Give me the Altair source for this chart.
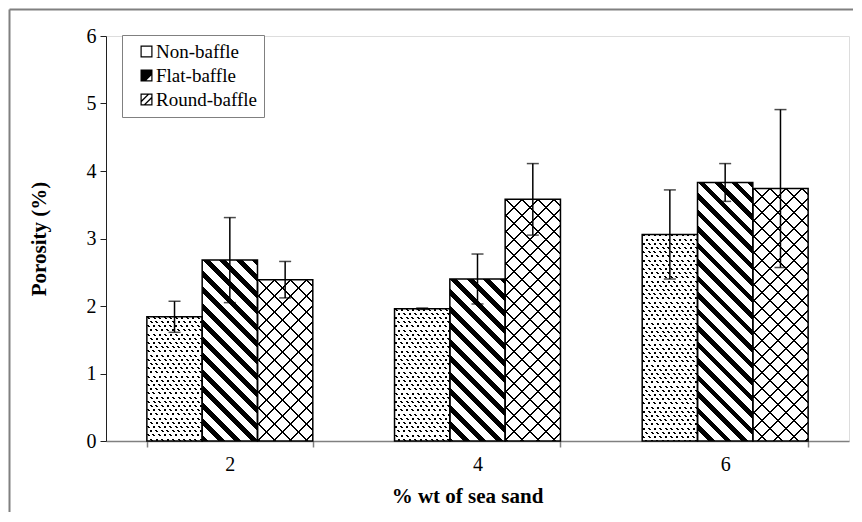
import math
import altair as alt
import pandas as pd

# ---------------- data ----------------
categories = ["2", "4", "6"]
series_names = ["Non-baffle", "Flat-baffle", "Round-baffle"]
non_baffle = [1.84, 1.96, 3.06]
non_baffle_err = [0.23, 0.01, 0.66]
flat_baffle = [2.68, 2.40, 3.83]
flat_baffle_err = [0.63, 0.37, 0.28]
round_baffle = [2.39, 3.58, 3.74]
round_baffle_err = [0.27, 0.53, 1.17]
y_ticks = [0, 1, 2, 3, 4, 5, 6]

x_title = "% wt of sea sand"
y_title = "Porosity (%)"

rows = []
for name, vals, errs in [
    (series_names[0], non_baffle, non_baffle_err),
    (series_names[1], flat_baffle, flat_baffle_err),
    (series_names[2], round_baffle, round_baffle_err),
]:
    for cat, v, e in zip(categories, vals, errs):
        rows.append({"sand": cat, "baffle": name, "porosity": v,
                     "lo": round(v - e, 3), "hi": round(v + e, 3)})
df = pd.DataFrame(rows)

# ---------------- layout ----------------
W, H = 743, 405
Y_MAX = 6
PAD_INNER = 0.33
BAR_W = W / len(categories) * (1 - PAD_INNER) / len(series_names)
PX_PER_UNIT = H / Y_MAX
SERIF = "Liberation Serif"
CLEAR = "rgba(255,255,255,0)"
AXIS_GRAY = "#808080"
LABEL_SIZE = 20
TITLE_SIZE = 21


def stripe_gradient(w, h, c1, c2, spacing, frac, line_color, bg_color):
    """Hatch-like linear gradient: bands along lines c1*x + c2*y = const (bar-local px)."""
    corners = [(0.0, 0.0), (w, 0.0), (0.0, h), (w, h)]
    ls = [c1 * x + c2 * y for x, y in corners]
    lmin, lmax = min(ls), max(ls)
    x0, y0 = corners[ls.index(lmin)]
    k = (lmax - lmin) / (c1 * c1 * w * w + c2 * c2 * h * h)
    u1, v1 = x0 / w, y0 / h
    u2, v2 = u1 + c1 * w * k, v1 + c2 * h * k
    if c1 == 0:
        u1 = u2 = 0.5
    span = lmax - lmin

    def off(l):
        return round(min(1.0, max(0.0, (l - lmin) / span)), 5)

    stops = []
    m = math.floor(lmin / spacing)
    while m * spacing < lmax:
        a = off(m * spacing)
        b = off((m + frac) * spacing)
        c = off((m + 1) * spacing)
        stops += [(a, line_color), (b, line_color), (b, bg_color), (c, bg_color)]
        m += 1
    return alt.LinearGradient(
        gradient="linear",
        x1=round(u1, 5), y1=round(v1, 5), x2=round(u2, 5), y2=round(v2, 5),
        stops=[alt.GradientStop(offset=o, color=col) for o, col in stops],
    )


def enc_x():
    return alt.X(
        "sand:N",
        scale=alt.Scale(domain=categories, paddingInner=PAD_INNER, paddingOuter=PAD_INNER / 2),
        axis=alt.Axis(
            title=x_title, labelAngle=0, tickBand="extent",
            domainColor=AXIS_GRAY, domainWidth=1.5, tickColor=AXIS_GRAY, tickWidth=1.5, tickSize=6,
            labelFont=SERIF, labelFontSize=LABEL_SIZE, labelColor="black", labelPadding=7,
            titleFont=SERIF, titleFontSize=TITLE_SIZE, titleFontWeight="bold", titleColor="black",
            titlePadding=11, titleX=361,
        ),
    )


def enc_xoff():
    return alt.XOffset("baffle:N", scale=alt.Scale(domain=series_names, paddingInner=0, paddingOuter=0))


def enc_y(field):
    return alt.Y(
        f"{field}:Q",
        title=y_title,
        scale=alt.Scale(domain=[0, Y_MAX], nice=False, zero=True),
        axis=alt.Axis(
            values=y_ticks, grid=False,
            domainColor="#202020", tickColor="#202020", tickSize=6,
            labelFont=SERIF, labelFontSize=LABEL_SIZE, labelColor="black", labelPadding=4,
            titleFont=SERIF, titleFontSize=TITLE_SIZE, titleFontWeight="bold", titleColor="black",
            titlePadding=37,
        ),
    )


# legend symbols (unit square paths: ring + pattern hint)
RING = "M-1,-1H1V1H-1Z M-0.8,-0.8V0.8H0.8V-0.8Z"
legend_paths = [
    RING,
    RING + " M-0.8,-0.8H0.8V0L0,0.8H-0.8Z",
    RING + " M-0.8,0.1L0.1,-0.8H0.4L-0.8,0.4Z M-0.4,0.8L0.8,-0.4V-0.1L-0.1,0.8Z",
]

layers = []

# frame (top and left edges visible inside the picture)
frame_df = pd.DataFrame({"f": [0]})
layers.append(
    alt.Chart(frame_df).mark_rule(color=AXIS_GRAY, strokeWidth=2)
    .encode(x=alt.value(-96.5), x2=alt.value(W + 8), y=alt.value(-26.5))
)
layers.append(
    alt.Chart(frame_df).mark_rule(color=AXIS_GRAY, strokeWidth=2)
    .encode(x=alt.value(-96.5), y=alt.value(-26.5), y2=alt.value(H + 120))
)

# hidden points that carry the legend (covered by the bars)
legend_pts = alt.Chart(df).transform_calculate(mid="datum.porosity / 2").mark_point(
    filled=True, color="black", size=4, opacity=1
).encode(
    x=enc_x(), xOffset=enc_xoff(), y=enc_y("mid"),
    shape=alt.Shape(
        "baffle:N",
        scale=alt.Scale(domain=series_names, range=legend_paths),
        legend=alt.Legend(
            title=None, orient="none", legendX=16, legendY=-1, direction="vertical",
            strokeColor=AXIS_GRAY, fillColor="white", padding=7,
            labelFont=SERIF, labelFontSize=19, labelColor="black", labelOffset=0,
            symbolSize=144, symbolFillColor="black", symbolStrokeWidth=0,
            symbolOffset=8, rowPadding=4,
        ),
    ),
)
layers.append(legend_pts)

# patterned bars, one layer per pattern piece
DOT_DX, DOT_DY = 8.3, 4.2
for r in rows:
    h = r["porosity"] * PX_PER_UNIT
    w = BAR_W
    if r["baffle"] == "Non-baffle":
        fills = [
            "black",
            stripe_gradient(w, h, 0, 1 / DOT_DY, 1.0, 0.46, CLEAR, "white"),
            stripe_gradient(w, h, 3 / DOT_DX, -1 / DOT_DY, 2.0, 0.36, CLEAR, "white"),
        ]
    elif r["baffle"] == "Flat-baffle":
        fills = [stripe_gradient(w, h, 1, -1, 16.5, 0.42, "black", "white")]
    else:
        fills = [
            stripe_gradient(w, h, 1, 1, 16, 0.12, "black", "white"),
            stripe_gradient(w, h, 1, -1, 16, 0.12, "black", CLEAR),
        ]
    for f in fills:
        layers.append(
            alt.Chart(df)
            .transform_filter((alt.datum.sand == r["sand"]) & (alt.datum.baffle == r["baffle"]))
            .mark_bar(fill=f)
            .encode(x=enc_x(), xOffset=enc_xoff(), y=enc_y("porosity"))
        )

# bar outlines
layers.append(
    alt.Chart(df).mark_bar(fill="transparent", stroke="black", strokeWidth=1.5)
    .encode(x=enc_x(), xOffset=enc_xoff(), y=enc_y("porosity"))
)

# error bars
layers.append(
    alt.Chart(df).mark_rule(color="black", strokeWidth=1.5)
    .encode(x=enc_x(), xOffset=enc_xoff(), y=enc_y("lo"), y2="hi")
)
for fld in ["lo", "hi"]:
    layers.append(
        alt.Chart(df).mark_tick(color="black", thickness=1.5, size=12)
        .encode(x=enc_x(), xOffset=enc_xoff(), y=enc_y(fld))
    )

chart = (
    alt.layer(*layers)
    .properties(
        width=W, height=H,
        autosize=alt.AutoSizeParams(type="none"),
        padding={"left": 98, "top": 28, "right": 4, "bottom": 71},
    )
    .configure_view(stroke=None)
    .configure(background="white", font=SERIF)
)

chart.save("out.html", embed_options={"renderer": "svg", "actions": False})
